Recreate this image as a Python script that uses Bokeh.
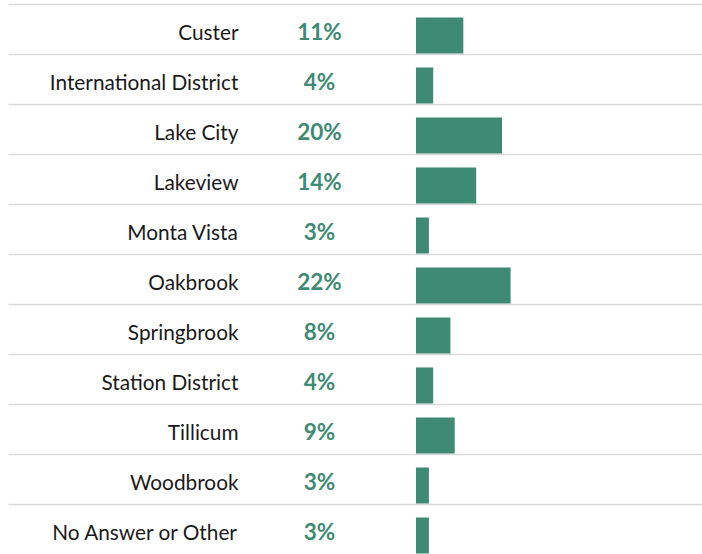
from bokeh.plotting import figure
from bokeh.models import ColumnDataSource, Range1d
from bokeh.core.properties import value
from bokeh.embed import file_html
from bokeh.resources import INLINE
import numpy as np

categories = ["Custer", "International District", "Lake City", "Lakeview", "Monta Vista",
              "Oakbrook", "Springbrook", "Station District", "Tillicum", "Woodbrook",
              "No Answer or Other"]
percents = [11, 4, 20, 14, 3, 22, 8, 4, 9, 3, 3]

GREEN = "#3e8a72"
FONT = "Lato"

idx = np.arange(len(categories))
src = ColumnDataSource(dict(
    y=idx,
    ybar=idx + 0.12,
    ytxt=idx + 0.04,
    cat=categories,
    pct=percents,
    pct_label=[f"{v}%" for v in percents],
))

px_per_pct = 4.3
x0_page = 415.5
W, H = 702, 554
p = figure(width=W, height=H, output_backend="svg", toolbar_location=None,
           min_border=0, min_border_left=0, min_border_right=0,
           min_border_top=0, min_border_bottom=0)
xmin = -x0_page / px_per_pct
xmax = (W - x0_page) / px_per_pct
p.x_range = Range1d(xmin, xmax)
p.y_range = Range1d((H - 29) / 50, (0 - 29) / 50)
p.axis.visible = False
p.grid.visible = False
p.outline_line_color = None
p.background_fill_color = "white"
p.border_fill_color = "white"

sep_y = np.concatenate([[-0.5], idx[:-1] + 0.5])
p.segment(x0=xmin + 8 / px_per_pct, x1=xmax, y0=sep_y, y1=sep_y,
          line_color="#dadada", line_width=1.5)

p.hbar(y="ybar", left=0, right="pct", height=0.72, source=src,
       fill_color=GREEN, line_color=None)

p.text(x=(238 - x0_page) / px_per_pct, y="ytxt", text="cat", source=src,
       text_align="right", text_baseline="middle", text_font=value(FONT),
       text_font_size="20.8px", text_color="#1a1a1a")
p.text(x=(319 - x0_page) / px_per_pct, y="ytxt", text="pct_label", source=src,
       text_align="center", text_baseline="middle", text_font=value(FONT),
       text_font_size="22.5px", text_font_style="bold", text_color=GREEN)

open("out.html", "w").write(file_html(p, INLINE))
